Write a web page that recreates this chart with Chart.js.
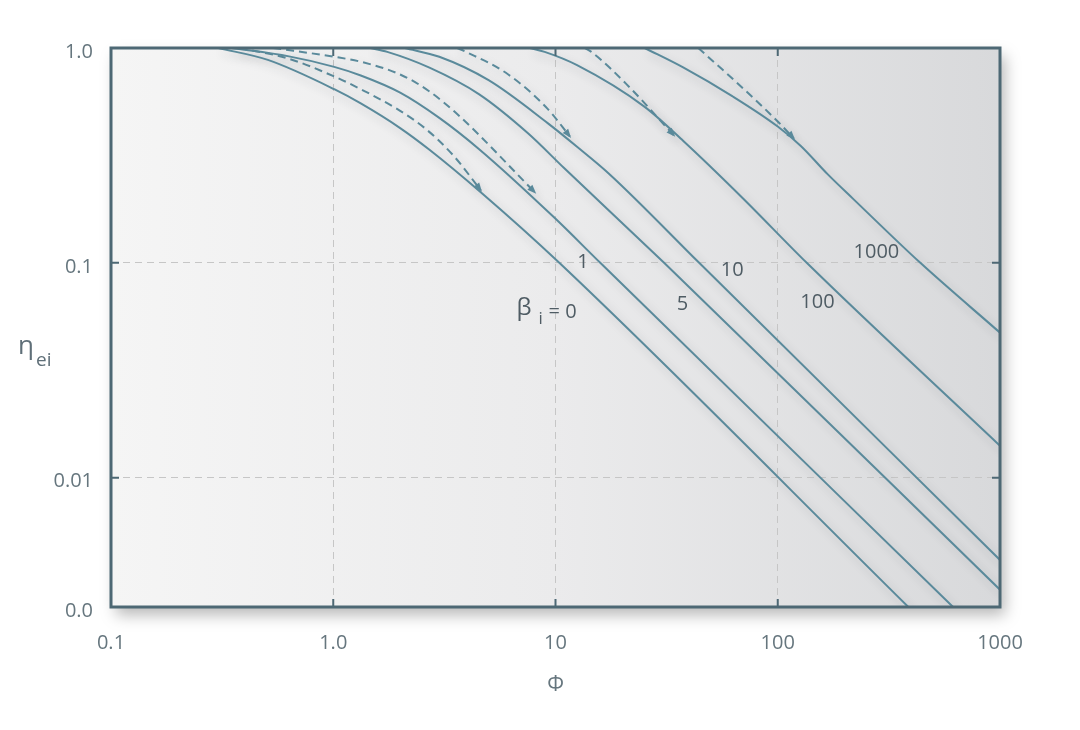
<!DOCTYPE html>
<html>
<head>
<meta charset="utf-8">
<script src="https://cdn.jsdelivr.net/npm/chart.js@4.4.1/dist/chart.umd.min.js"></script>
<style>
  html, body { margin: 0; padding: 0; background: #fff; }
</style>
</head>
<body>
<canvas id="grafico" width="1080" height="730"></canvas>
<script>
// ejes
const xTicks = [0.1, 1, 10, 100, 1000];
const xTickLabels = ['0.1', '1.0', '10', '100', '1000'];
const yTicks = [0.0025, 0.01, 0.1, 1];
const yTickLabels = ['0.0', '0.01', '0.1', '1.0'];

// curvas solidas, una por beta_i
const phiB0 = [0.304, 0.508, 1.01, 1.33, 2.00, 2.71, 4.61, 10.4, 387];
const etaB0 = [1, 0.880, 0.643, 0.552, 0.424, 0.336, 0.213, 0.1, 0.0025];
const phiB1 = [0.347, 0.632, 1.01, 1.33, 2.00, 3.00, 4.52, 9.90, 15.9, 615];
const etaB1 = [1, 0.914, 0.817, 0.745, 0.620, 0.473, 0.339, 0.162, 0.1, 0.0025];
const phiB5 = [1.47, 1.75, 2.71, 4.52, 7.52, 10.9, 30.8, 1000];
const etaB5 = [1, 0.959, 0.810, 0.610, 0.401, 0.277, 0.1, 0.00301];
const phiB10 = [2.10, 3.00, 5.00, 9.22, 12.5, 17.4, 44.3, 1000];
const etaB10 = [1, 0.910, 0.708, 0.447, 0.347, 0.260, 0.1, 0.00414];
const phiB100 = [7.67, 8.94, 12.5, 25.2, 37.7, 68.9, 135, 1000];
const etaB100 = [1, 0.959, 0.832, 0.532, 0.368, 0.202, 0.1, 0.01407];
const phiB1000 = [25.2, 37.7, 62.4, 100, 127, 168, 219, 438, 1000];
const etaB1000 = [1, 0.810, 0.597, 0.431, 0.350, 0.258, 0.198, 0.1, 0.0473];

// curvas punteadas
const phiD0 = [0.379, 0.632, 1.01, 1.33, 2.00, 2.63, 3.47, 4.61];
const etaD0 = [1, 0.891, 0.737, 0.643, 0.510, 0.417, 0.316, 0.218];
const phiD1 = [0.537, 1.01, 1.33, 2.00, 2.69, 3.68, 8.07];
const etaD1 = [1, 0.910, 0.863, 0.753, 0.631, 0.484, 0.213];
const phiD10 = [3.61, 3.96, 6.13, 9.22, 11.6];
const etaD10 = [1, 0.959, 0.753, 0.521, 0.388];
const phiD100 = [13.5, 14.5, 21.3, 34.1];
const etaD100 = [1, 0.959, 0.664, 0.392];
const phiD1000 = [43.9, 68.9, 100, 118];
const etaD1000 = [1, 0.657, 0.455, 0.380];

const curveLabels = ['1', '5', '10', '100', '1000'];

const COLOR = '#5a8a9b';
const pares = (xs, ys) => xs.map((x, i) => ({ x: x, y: ys[i] }));

function serie(xs, ys, dashed) {
  return {
    data: pares(xs, ys),
    showLine: true,
    borderColor: COLOR,
    borderWidth: 2,
    borderDash: dashed ? [8, 5] : [],
    pointRadius: 0,
    cubicInterpolationMode: 'monotone',
    fill: false,
    dashed: dashed
  };
}

const datasets = [
  serie(phiB0, etaB0, false),
  serie(phiB1, etaB1, false),
  serie(phiB5, etaB5, false),
  serie(phiB10, etaB10, false),
  serie(phiB100, etaB100, false),
  serie(phiB1000, etaB1000, false),
  serie(phiD0, etaD0, true),
  serie(phiD1, etaD1, true),
  serie(phiD10, etaD10, true),
  serie(phiD100, etaD100, true),
  serie(phiD1000, etaD1000, true)
];

// fondo degradado con sombra
const fondo = {
  id: 'fondo',
  beforeDraw(chart) {
    const { ctx, chartArea: a } = chart;
    ctx.save();
    ctx.fillStyle = '#fff';
    ctx.fillRect(0, 0, chart.width, chart.height);
    ctx.shadowColor = 'rgba(0,0,0,0.28)';
    ctx.shadowBlur = 14;
    ctx.shadowOffsetX = 5;
    ctx.shadowOffsetY = 8;
    const g = ctx.createLinearGradient(a.left, 0, a.right, 0);
    g.addColorStop(0, '#f5f5f5');
    g.addColorStop(0.5, '#ebebec');
    g.addColorStop(1, '#d8d9db');
    ctx.fillStyle = g;
    ctx.fillRect(a.left, a.top, a.right - a.left, a.bottom - a.top);
    ctx.restore();
  }
};

// sombra suave bajo las curvas
const sombra = {
  id: 'sombra',
  beforeDatasetsDraw(chart) {
    const c = chart.ctx;
    c.save();
    c.shadowColor = 'rgba(40,50,60,0.22)';
    c.shadowBlur = 10;
    c.shadowOffsetX = 4;
    c.shadowOffsetY = 5;
  },
  afterDatasetsDraw(chart) {
    chart.ctx.restore();
  }
};

// marco, marcas interiores, flechas y rotulos
const extras = {
  id: 'extras',
  afterDraw(chart) {
    const { ctx, chartArea: a, scales } = chart;
    const xs = scales.x, ys = scales.y;
    ctx.save();

    // flechas al final de las punteadas
    ctx.fillStyle = COLOR;
    chart.data.datasets.forEach((ds, i) => {
      if (!ds.dashed) return;
      const pts = chart.getDatasetMeta(i).data;
      const p = pts[pts.length - 1], q = pts[pts.length - 2];
      const ang = Math.atan2(p.y - q.y, p.x - q.x);
      ctx.save();
      ctx.translate(p.x, p.y);
      ctx.rotate(ang);
      ctx.beginPath();
      ctx.moveTo(2, 0);
      ctx.lineTo(-7, -3.5);
      ctx.lineTo(-7, 3.5);
      ctx.closePath();
      ctx.fill();
      ctx.restore();
    });

    // marco
    ctx.strokeStyle = '#4d6874';
    ctx.lineWidth = 3;
    ctx.strokeRect(a.left, a.top, a.right - a.left, a.bottom - a.top);

    // marcas interiores
    ctx.lineWidth = 2;
    ctx.beginPath();
    xTicks.slice(1, -1).forEach(v => {
      const px = xs.getPixelForValue(v);
      ctx.moveTo(px, a.top); ctx.lineTo(px, a.top + 8);
      ctx.moveTo(px, a.bottom); ctx.lineTo(px, a.bottom - 8);
    });
    yTicks.slice(1, -1).forEach(v => {
      const py = ys.getPixelForValue(v);
      ctx.moveTo(a.left, py); ctx.lineTo(a.left + 8, py);
      ctx.moveTo(a.right, py); ctx.lineTo(a.right - 8, py);
    });
    ctx.stroke();

    // rotulos de curvas
    const pos = chart.options.plugins.extras.posiciones;
    ctx.fillStyle = '#4f5c64';
    ctx.textAlign = 'center';
    ctx.textBaseline = 'middle';
    ctx.font = "20px 'Open Sans'";
    curveLabels.forEach((t, i) => {
      ctx.fillText(t, xs.getPixelForValue(pos[i][0]), ys.getPixelForValue(pos[i][1]));
    });

    // beta_i = 0
    const bx = xs.getPixelForValue(pos[5][0]), by = ys.getPixelForValue(pos[5][1]);
    ctx.textAlign = 'left';
    ctx.textBaseline = 'alphabetic';
    ctx.font = "24px 'Open Sans'";
    ctx.fillText('\u03b2', bx - 36, by + 6);
    ctx.font = "17px 'Open Sans'";
    ctx.fillText('i', bx - 14, by + 15);
    ctx.font = "20px 'Open Sans'";
    ctx.fillText('= 0', bx - 4, by + 9);

    // titulo eje y
    ctx.fillStyle = '#5f6f78';
    ctx.font = "26px 'Open Sans'";
    ctx.fillText('\u03b7', 18, a.top + 306);
    ctx.font = "19px 'Open Sans'";
    ctx.fillText('ei', 36, a.top + 318);
    ctx.restore();
  }
};

Chart.defaults.font.family = "'Open Sans', sans-serif";

new Chart(document.getElementById('grafico'), {
  type: 'scatter',
  data: { datasets: datasets },
  plugins: [fondo, sombra, extras],
  options: {
    responsive: false,
    animation: false,
    layout: { padding: { left: 0, right: 80, top: 48, bottom: 0 } },
    plugins: {
      legend: { display: false },
      tooltip: { enabled: false },
      extras: {
        posiciones: [[13.3, 0.101], [37.3, 0.0644], [62.4, 0.0926], [151, 0.0658], [278, 0.112], [9.7, 0.0609]]
      }
    },
    scales: {
      x: {
        type: 'logarithmic',
        min: 0.1,
        max: 1000,
        afterFit(scale) { scale.height = 123; },
        afterBuildTicks(scale) { scale.ticks = xTicks.map(v => ({ value: v })); },
        ticks: {
          callback: (v, i) => xTickLabels[i],
          color: '#66767e',
          font: { size: 20 },
          padding: 24,
          maxRotation: 0
        },
        grid: {
          drawTicks: false,
          color: c => (c.index === 0 || c.index === xTicks.length - 1) ? 'rgba(0,0,0,0)' : '#c6c6c6',
          lineWidth: 1
        },
        border: { display: false, dash: [7, 5] },
        title: {
          display: true,
          text: '\u03a6',
          color: '#66767e',
          font: { size: 21 },
          padding: { top: 4, bottom: 32 }
        }
      },
      y: {
        type: 'logarithmic',
        min: 0.0025,
        max: 1,
        afterFit(scale) { scale.width = 111; },
        afterBuildTicks(scale) { scale.ticks = yTicks.map(v => ({ value: v })); },
        ticks: {
          callback: (v, i) => yTickLabels[i],
          color: '#66767e',
          font: { size: 20 },
          padding: 18,
          labelOffset: 4
        },
        grid: {
          drawTicks: false,
          color: c => (c.index === 0 || c.index === yTicks.length - 1) ? 'rgba(0,0,0,0)' : '#c6c6c6',
          lineWidth: 1
        },
        border: { display: false, dash: [7, 5] }
      }
    }
  }
});
</script>
</body>
</html>
